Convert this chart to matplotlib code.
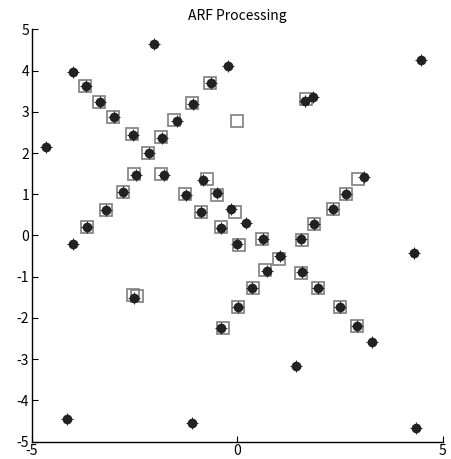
import matplotlib.pyplot as plt
import numpy as np

plt.rcParams['font.family'] = ['Noto Sans CJK JP', 'DejaVu Sans']
plt.rcParams['axes.unicode_minus'] = False

# filled dots (measured points)
dot_x = [-4.65, -4.0, -3.69, -3.34, -3.0, -2.55, -2.16, -2.04, -1.84, -1.46,
         -1.09, -0.65, -0.23, -2.47, -2.78, -3.19, -3.67, -1.79, -1.26, -0.85,
         -0.88, -0.50, -0.41, -0.15, 0.22, 4.47, 1.64, 1.84, 3.08, 2.63,
         2.33, 1.87, -0.01, 0.61, 1.54, 1.03, 0.71, 1.56, 0.36, 1.95,
         0.02, 2.49, 2.90, 3.28, 1.43, 4.30, 4.34, -0.41, -4.0, -2.52,
         -4.15, -1.11]
dot_y = [2.14, 3.97, 3.63, 3.23, 2.87, 2.44, 1.99, 4.64, 2.36, 2.78,
         3.19, 3.69, 4.12, 1.47, 1.06, 0.62, 0.20, 1.47, 0.99, 1.35,
         0.58, 1.02, 0.17, 0.64, 0.30, 4.26, 3.26, 3.37, 1.43, 1.00,
         0.64, 0.28, -0.21, -0.09, -0.09, -0.50, -0.86, -0.88, -1.28, -1.28,
         -1.74, -1.74, -2.19, -2.59, -3.17, -0.43, -4.66, -2.24, -0.21, -1.52,
         -4.46, -4.54]

# open squares (processed estimates)
sq_x = [-3.72, -3.36, -3.02, -2.57, -2.18, -1.86, -1.55, -1.10, -0.66, -2.52,
        -2.79, -3.21, -3.65, -1.85, -1.27, -0.75, -0.88, -0.49, -0.41, -0.05,
        1.66, -0.02, 2.93, 2.63, 2.33, 1.86, 0.04, 0.60, 1.58, 1.00,
        0.68, 1.55, 0.39, 1.95, 0.02, 2.49, 2.90, -0.35, -2.55, -2.44]
sq_y = [3.63, 3.24, 2.87, 2.45, 1.99, 2.38, 2.81, 3.21, 3.70, 1.50,
        1.06, 0.62, 0.20, 1.50, 1.00, 1.37, 0.58, 0.98, 0.20, 0.56,
        3.30, 2.78, 1.36, 1.00, 0.63, 0.27, -0.23, -0.08, -0.10, -0.58,
        -0.83, -0.90, -1.28, -1.28, -1.74, -1.74, -2.19, -2.24, -1.45, -1.48]

fig = plt.figure(figsize=(4.51, 4.59), dpi=100)
ax = fig.add_axes([0.071, 0.038, 0.911, 0.898])

ax.plot(sq_x, sq_y, 's', markersize=9, markerfacecolor='none',
        markeredgecolor='#7f7f7f', markeredgewidth=1.2, linestyle='none')
ax.plot(dot_x, dot_y, 'o', markersize=7, color='#222222', markeredgewidth=0,
        linestyle='none')
ax.plot(dot_x, dot_y, '+', markersize=8.5, color='#222222', markeredgewidth=0.7,
        linestyle='none')

ax.set_xlim(-5, 5)
ax.set_ylim(-5, 5)
ax.set_xticks([-5, 0, 5])
ax.set_yticks(np.arange(-5, 6, 1))
ax.spines['top'].set_visible(False)
ax.spines['right'].set_visible(False)
ax.spines['left'].set_linewidth(1.0)
ax.spines['bottom'].set_linewidth(1.0)
ax.tick_params(direction='in', length=4, width=0.8, labelsize=10, pad=2)
ax.set_title('ARF Processing', fontsize=10, pad=7)

plt.savefig('out.png', dpi=100)
